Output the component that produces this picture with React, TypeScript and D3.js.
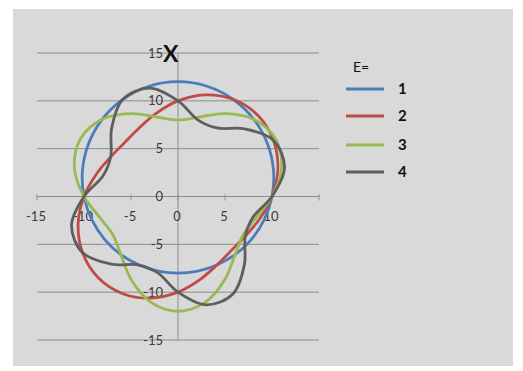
import React from "react";
import * as d3 from "d3";

// polar angle (degrees) of each sampled point
const thetaDeg = [0, 15, 30, 45, 60, 75, 90, 105, 120, 135, 150, 165, 180, 195, 210, 225, 240, 255, 270, 285, 300, 315, 330, 345];

// radius read for each series (E = 1..4)
const rE1 = [10, 10.52, 11, 11.41, 11.73, 11.93, 12, 11.93, 11.73, 11.41, 11, 10.52, 10, 9.48, 9, 8.59, 8.27, 8.07, 8, 8.07, 8.27, 8.59, 9, 9.48];
const rE2 = [10, 11, 11.73, 12, 11.73, 11, 10, 9, 8.27, 8, 8.27, 9, 10, 11, 11.73, 12, 11.73, 11, 10, 9, 8.27, 8, 8.27, 9];
const rE3 = [10, 11.41, 12, 11.41, 10, 8.59, 8, 8.59, 10, 11.41, 12, 11.41, 10, 8.59, 8, 8.59, 10, 11.41, 12, 11.41, 10, 8.59, 8, 8.59];
const rE4 = [10, 11.73, 11.73, 10, 8.27, 8.27, 10, 11.73, 11.73, 10, 8.27, 8.27, 10, 11.73, 11.73, 10, 8.27, 8.27, 10, 11.73, 11.73, 10, 8.27, 8.27];

const seriesNames = ["1", "2", "3", "4"];
const seriesRadii = [rE1, rE2, rE3, rE4];
const seriesColors = ["#4a7ebb", "#be4b48", "#98b954", "#5e5e5e"];

const xTicks = [-15, -10, -5, 0, 5, 10];
const xTickMarks = [-15, -10, -5, 0, 5, 10, 15];
const yTicks = [15, 10, 5, 0, -5, -10, -15];
const gridY = [15, 10, 5, -5, -10, -15];

const FONT = "Lato, 'Open Sans', 'Liberation Sans', sans-serif";

export default function App() {
  const W = 523;
  const H = 371;
  const x = d3.scaleLinear().domain([-15, 15]).range([37, 319]);
  const y = d3.scaleLinear().domain([-15, 15]).range([340, 53]);

  const line = d3
    .line<[number, number]>()
    .x((d) => x(d[0]))
    .y((d) => y(d[1]))
    .curve(d3.curveCatmullRomClosed.alpha(0.5));

  const toXY = (r: number[]): [number, number][] =>
    r.map((rv, i) => {
      const t = (thetaDeg[i] * Math.PI) / 180;
      return [rv * Math.cos(t), rv * Math.sin(t)];
    });

  const gridColor = "#8c8c8c";
  const labelColor = "#3a3a3a";

  return (
    <svg
      width={W}
      height={H}
      style={{ position: "absolute", left: 0, top: 0, display: "block" }}
    >
      <rect x={0} y={0} width={W} height={H} fill="#ffffff" />
      <rect x={13} y={9} width={500} height={357} fill="#d9d9d9" />

      {gridY.map((v) => (
        <line key={"g" + v} x1={x(-15)} x2={x(15)} y1={y(v)} y2={y(v)} stroke={gridColor} strokeWidth={1} />
      ))}
      {/* x axis */}
      <line x1={x(-15)} x2={x(15)} y1={y(0)} y2={y(0)} stroke={gridColor} strokeWidth={1} />
      {xTickMarks.map((v) => (
        <line key={"xt" + v} x1={x(v)} x2={x(v)} y1={y(0) - 2} y2={y(0) + 4} stroke={gridColor} strokeWidth={1} />
      ))}
      {/* y axis */}
      <line x1={x(0)} x2={x(0)} y1={y(15)} y2={y(-15)} stroke={gridColor} strokeWidth={1} />

      {xTicks.map((v) => (
        <text key={"xl" + v} x={x(v) - 1} y={y(0) + 24} textAnchor="middle" fontFamily={FONT} fontSize={13} fill={labelColor}>
          {v}
        </text>
      ))}
      {yTicks.map((v) => (
        <text key={"yl" + v} x={163} y={y(v) + 4.5} textAnchor="end" fontFamily={FONT} fontSize={13} fill={labelColor}>
          {v}
        </text>
      ))}

      <text x={163} y={62} fontFamily={FONT} fontSize={23} fontWeight="bold" fill="#111">
        X
      </text>

      {seriesRadii.map((r, i) => (
        <path key={"s" + i} d={line(toXY(r)) || ""} fill="none" stroke={seriesColors[i]} strokeWidth={2.8} strokeLinejoin="round" />
      ))}

      {/* legend */}
      <text x={353} y={72} fontFamily={FONT} fontSize={14} fill="#111">
        E=
      </text>
      {seriesNames.map((n, i) => {
        const ly = [89, 116, 145, 172][i];
        return (
          <g key={"lg" + n}>
            <line x1={346} x2={384} y1={ly} y2={ly} stroke={seriesColors[i]} strokeWidth={2.8} />
            <text x={398} y={ly + 5} fontFamily={FONT} fontSize={15} fontWeight="bold" fill="#111">
              {n}
            </text>
          </g>
        );
      })}
    </svg>
  );
}
